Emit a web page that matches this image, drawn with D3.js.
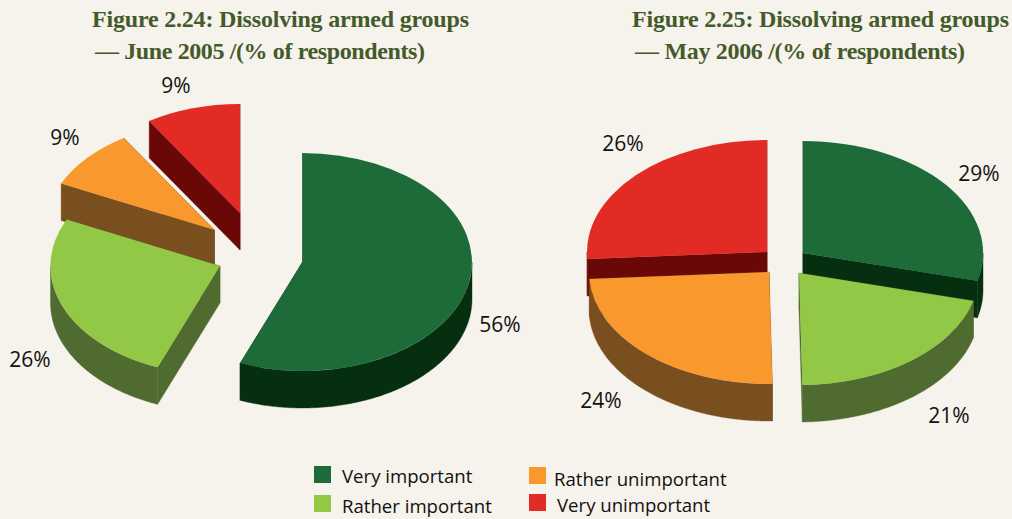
<!DOCTYPE html>
<html><head><meta charset="utf-8">
<script src="https://cdnjs.cloudflare.com/ajax/libs/d3/7.8.5/d3.min.js"></script>
<style>
html,body{margin:0;padding:0;background:#f6f2ec;overflow:hidden}
svg{display:block}
.title{font-family:"Liberation Serif",serif;font-weight:700;font-size:24px;fill:#445a2a}
.lab{font-family:"Open Sans",sans-serif;fill:#111}
</style></head><body>
<svg id="c" width="1012" height="519"></svg>
<script>
// ---- data ----
const categories = ["Very important","Rather important","Rather unimportant","Very unimportant"];
const values2005 = [56,26,9,9];
const values2006 = [29,20.7,24.3,26];
const titles2005 = ["Figure 2.24: Dissolving armed groups","— June 2005 /(% of respondents)"];
const titles2006 = ["Figure 2.25: Dissolving armed groups","— May 2006 /(% of respondents)"];

// ---- styling and layout ----
const topColors  = ["#1c6b38","#92c846","#f9982c","#e32b26"];
const sideColors = ["#062f10","#506b30","#7a4f1f","#6a0808"];
const depth = 37;
const layout2005 = {rx:169.5, ry:109,
  apex:[[302.5,262],[220,266],[214.5,230],[240,213]],
  order:[3,2,0,1],
  labels:[[500,332],[30,367],[65,145],[176,93]]};
const layout2006 = {rx:180, ry:112,
  apex:[[803,253],[799,273],[769,272],[767,252]],
  order:[3,0,2,1],
  labels:[[979,181],[949,423],[601,408],[623,151]]};
const legendLayout = [
  {sx:314,sy:466,tx:342,ty:483},
  {sx:314,sy:495,tx:342,ty:513},
  {sx:529,sy:467,tx:554,ty:486},
  {sx:529,sy:494,tx:557,ty:512}];

const svg = d3.select("#c");
const pie = d3.pie().sort(null).value(d=>d);
const unitArc = d3.arc().innerRadius(0).outerRadius(1);
const pct = d3.format(".0f");

function drawPie(values, L){
  const arcs = pie(values);
  const g = svg.append("g");
  const line = d3.line();
  L.order.forEach(i=>{
    const a = arcs[i], [ax,ay] = L.apex[i];
    const px = t=>[ax+L.rx*Math.sin(t), ay-L.ry*Math.cos(t)];
    const s = g.append("g");
    // radial walls
    [a.startAngle,a.endAngle].forEach(t=>{
      const e = px(t);
      s.append("path").attr("fill",sideColors[i]).attr("stroke",sideColors[i]).attr("stroke-width",.4)
       .attr("d",line([[ax,ay],e,[e[0],e[1]+depth],[ax,ay+depth]])+"Z");
    });
    // outer rim (front half of the ellipse only)
    const t0 = Math.max(a.startAngle,Math.PI/2), t1 = Math.min(a.endAngle,3*Math.PI/2);
    if(t1>t0){
      const ts = d3.range(t0,t1,0.01).concat([t1]);
      const upper = ts.map(px);
      const lower = ts.map(px).map(p=>[p[0],p[1]+depth]).reverse();
      s.append("path").attr("fill",sideColors[i]).attr("stroke",sideColors[i]).attr("stroke-width",.4)
       .attr("d",line(upper.concat(lower))+"Z");
    }
    // top face
    s.append("path").attr("fill",topColors[i])
     .attr("transform",`translate(${ax},${ay}) scale(${L.rx},${L.ry})`)
     .attr("d",unitArc(a));
  });
  values.forEach((v,i)=>{
    svg.append("text").attr("class","lab").attr("font-size",21).attr("text-anchor","middle")
      .attr("x",L.labels[i][0]).attr("y",L.labels[i][1]).text(pct(v)+"%");
  });
}
drawPie(values2005,layout2005);
drawPie(values2006,layout2006);

function drawTitle(lines,x1,x2){
  svg.append("text").attr("class","title").attr("x",x1).attr("y",27)
     .attr("textLength",377).attr("lengthAdjust","spacing").text(lines[0]);
  svg.append("text").attr("class","title").attr("x",x2).attr("y",59)
     .attr("textLength",330).attr("lengthAdjust","spacing").text(lines[1]);
}
drawTitle(titles2005,92,95);
drawTitle(titles2006,632,635);

categories.forEach((c,i)=>{
  const p = legendLayout[i];
  svg.append("rect").attr("x",p.sx).attr("y",p.sy).attr("width",17).attr("height",17).attr("fill",topColors[i]);
  svg.append("text").attr("class","lab").attr("font-size",18.6).attr("x",p.tx).attr("y",p.ty).text(c);
});
</script></body></html>
